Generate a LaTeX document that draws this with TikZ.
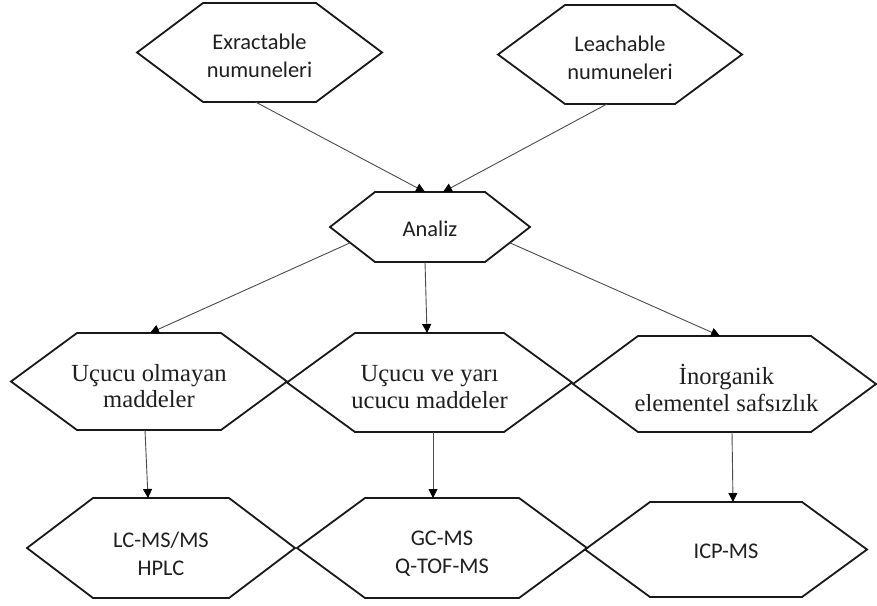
\documentclass[tikz,border=0pt]{standalone}
\usepackage{fontspec}
\setmainfont{Liberation Serif}
\newfontfamily\carl{Carlito}
\usetikzlibrary{arrows.meta,calc}
\tikzset{
  hexbox/.style={draw=none, rectangle, inner sep=0pt, outer sep=0pt},
  sanstext/.style={align=center, inner sep=0pt, font={\carl\fontsize{11.2}{13.7}\selectfont}, text=black!88},
  seriftext/.style={align=center, inner sep=0pt, font={\fontsize{12.3}{13.2}\selectfont}, text=black!88},
  hexline/.style={draw=black!90, line width=0.9pt, line join=miter},
  conn/.style={draw=black!70, line width=0.45pt, -{Triangle[length=4.5pt,width=4.5pt,fill=black,color=black]}}
}
\newcommand{\hexoutline}[2]{\draw[hexline] (#1.west) -- ([xshift=#2]#1.north west) -- ([xshift=-#2]#1.north east) -- (#1.east) -- ([xshift=-#2]#1.south east) -- ([xshift=#2]#1.south west) -- cycle;}
\begin{document}
\begin{tikzpicture}[x=0.5pt,y=-0.5pt]
\fill[white] (0,0) rectangle (877,605);
\useasboundingbox (0,0) rectangle (877,605);

% top row
\node[hexbox,minimum width=122.5pt,minimum height=49.5pt] (E) at (259.5,52.5) {};
\node[hexbox,minimum width=122pt,minimum height=49.5pt] (L) at (620,54.5) {};
\hexoutline{E}{33pt}
\hexoutline{L}{33.5pt}
\node[sanstext] (Et) at ([yshift=-1.6pt]E.center) {Exractable\\numuneleri};
\node[sanstext] (Lt) at ([yshift=-1.6pt]L.center) {Leachable\\numuneleri};

% analiz
\node[hexbox,minimum width=100pt,minimum height=35pt] (A) at (430,227) {};
\hexoutline{A}{22.5pt}
\node[sanstext] (At) at ([yshift=-1pt]A.center) {Analiz};

% middle row
\node[hexbox,minimum width=138pt,minimum height=48.5pt] (M1) at (149,381.5) {};
\node[hexbox,minimum width=142.5pt,minimum height=49.5pt] (M2) at (429.5,382.5) {};
\node[hexbox,minimum width=151.5pt,minimum height=48pt] (M3) at (724.5,384) {};
\hexoutline{M1}{33pt}
\hexoutline{M2}{34pt}
\hexoutline{M3}{32.5pt}
\node[seriftext] (M1t) at ([yshift=-2.2pt]M1.center) {Uçucu olmayan\\maddeler};
\node[seriftext] (M2t) at ([yshift=-2.2pt]M2.center) {Uçucu ve yarı\\ucucu maddeler};
\node[seriftext] (M3t) at ([xshift=1pt,yshift=-2pt]M3.center) {İnorganik\\elementel safsızlık};

% bottom row
\node[hexbox,minimum width=134pt,minimum height=50pt] (B1) at (161,548) {};
\node[hexbox,minimum width=145pt,minimum height=50pt] (B2) at (442,548) {};
\node[hexbox,minimum width=141pt,minimum height=47.5pt] (B3) at (726,549.5) {};
\hexoutline{B1}{33pt}
\hexoutline{B2}{34pt}
\hexoutline{B3}{32.5pt}
\node[sanstext] (B1t) at ([yshift=-2.8pt]B1.center) {LC-MS/MS\\HPLC};
\node[sanstext] (B2t) at ([yshift=-2.8pt]B2.center) {GC-MS\\Q-TOF-MS};
\node[sanstext] (B3t) at ([yshift=-1pt]B3.center) {ICP-MS};

% connectors
\draw[conn] ([xshift=-2pt]E.south) -- ([xshift=-2.5pt]A.north);
\draw[conn] ([xshift=-6.5pt]L.south) -- ([xshift=6.5pt]A.north);
\draw[conn] ($(A.west)!0.45!([xshift=22.5pt]A.south west)$) -- ([xshift=0.5pt]M1.north);
\draw[conn] ([xshift=-2.5pt]A.south) -- ([xshift=-1.25pt]M2.north);
\draw[conn] ($(A.east)!0.45!([xshift=-22.5pt]A.south east)$) -- ([xshift=-2.25pt]M3.north);
\draw[conn] ([xshift=-2pt]M1.south) -- ([xshift=-6.5pt]B1.north);
\draw[conn] ([xshift=1.75pt]M2.south) -- ([xshift=-4.5pt]B2.north);
\draw[conn] ([xshift=3.75pt]M3.south) -- ([xshift=3.5pt]B3.north);
\end{tikzpicture}
\end{document}
